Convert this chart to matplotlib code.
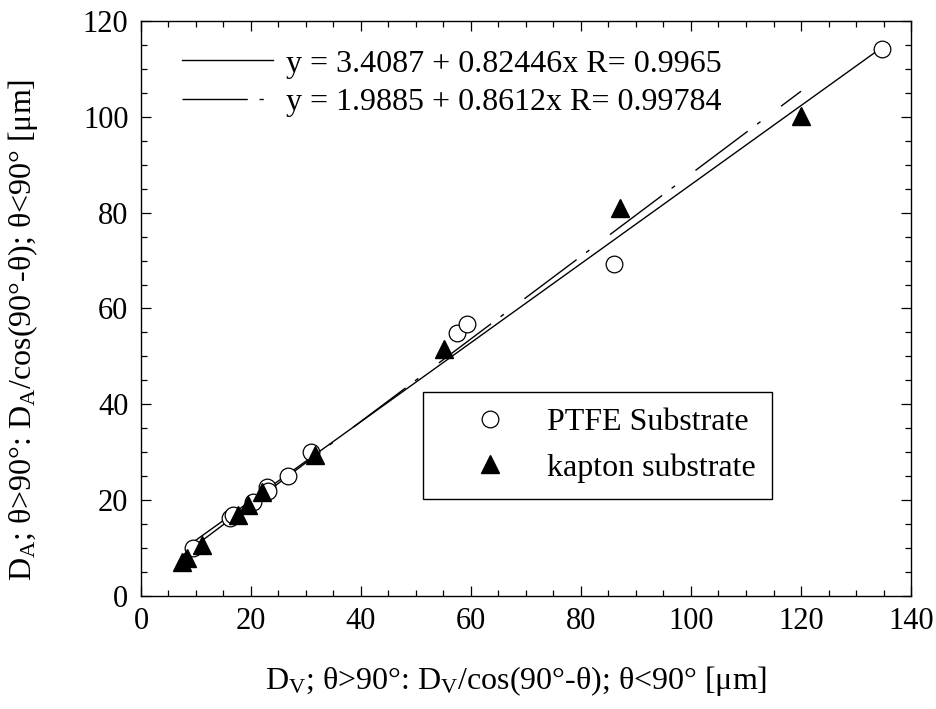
import matplotlib
matplotlib.use("Agg")
import matplotlib.pyplot as plt
from matplotlib.lines import Line2D
import numpy as np

plt.rcParams["font.family"] = ["Liberation Serif", "DejaVu Serif"]
plt.rcParams["mathtext.fontset"] = "custom"
plt.rcParams["mathtext.rm"] = "Liberation Serif"
plt.rcParams["mathtext.it"] = "Liberation Serif:italic"

# PTFE substrate (open circles)
ptfe_x = [134.7, 86.0, 57.5, 59.3, 31.0, 26.7, 22.9, 23.1, 20.4, 16.2, 16.8, 9.5]
ptfe_y = [114.2, 69.3, 54.9, 56.8, 30.0, 25.1, 22.8, 21.9, 19.6, 16.3, 17.0, 10.0]

# kapton substrate (filled triangles)
kapton_x = [120.0, 87.1, 55.1, 31.6, 22.0, 19.5, 17.6, 11.1, 7.5, 8.4]
kapton_y = [100.2, 81.0, 51.6, 29.4, 21.7, 19.0, 16.9, 10.6, 7.1, 7.9]

# linear fits given in the legend: intercept, slope, R
fit_ptfe = (3.4087, 0.82446, 0.9965)
fit_kapton = (1.9885, 0.8612, 0.99784)

x_ticks = [0, 20, 40, 60, 80, 100, 120, 140]
y_ticks = [0, 20, 40, 60, 80, 100, 120]

fig = plt.figure(figsize=(9.36, 7.09), dpi=100)
ax = fig.add_axes([0.1506, 0.1594, 0.8227, 0.811])

dash_pat = (47, 8.5, 3, 18.5)

xp = np.array([min(ptfe_x), max(ptfe_x)])
ax.plot(xp, fit_ptfe[0] + fit_ptfe[1] * xp, color="k", lw=1.0)
xk = np.array([min(kapton_x), max(kapton_x)])
ax.plot(xk, fit_kapton[0] + fit_kapton[1] * xk, color="k", lw=1.0,
        dashes=dash_pat)

pts_ptfe, = ax.plot(ptfe_x, ptfe_y, "o", ms=12, mfc="white", mec="k", mew=0.9,
                    label="PTFE Substrate")
pts_kapton, = ax.plot(kapton_x, kapton_y, "^", ms=12.5, mfc="k", mec="k",
                      label="kapton substrate")

ax.set_xlim(0, 140)
ax.set_ylim(0, 120)
ax.set_xticks(x_ticks)
ax.set_yticks(y_ticks)
ax.set_xticks(np.arange(0, 141, 5), minor=True)
ax.set_yticks(np.arange(0, 121, 5), minor=True)
ax.tick_params(which="both", direction="in", top=True, right=True,
               labelsize=22, width=0.9)
ax.tick_params(which="major", length=7.5)
ax.tick_params(which="minor", length=4.5)
ax.tick_params(axis="x", pad=8)
ax.tick_params(axis="y", pad=9)
for sp in ax.spines.values():
    sp.set_linewidth(1.0)

ax.set_xlabel(r"D$_\mathrm{V}$; θ>90°: D$_\mathrm{V}$/cos(90°-θ); θ<90° [μm]",
              fontsize=23)
ax.set_ylabel(r"D$_\mathrm{A}$; θ>90°: D$_\mathrm{A}$/cos(90°-θ); θ<90° [μm]",
              fontsize=23)
ax.xaxis.set_label_coords(0.487, -0.118)
ax.yaxis.set_label_coords(-0.131, 0.462)

# fit legend (top left, no frame)
fit_handles = [
    Line2D([], [], color="k", lw=1.0),
    Line2D([], [], color="k", lw=1.0, dashes=dash_pat),
]
fit_labels = [
    "y = %.4f + %.5fx R= %.4f" % fit_ptfe,
    "y = %.4f + %.4fx R= %.5f" % fit_kapton,
]
leg1 = ax.legend(fit_handles, fit_labels, loc="upper left",
                 bbox_to_anchor=(0.053, 0.951), frameon=False, fontsize=23,
                 handlelength=2.85, handletextpad=0.4, labelspacing=0.3,
                 borderpad=0, borderaxespad=0)
ax.add_artist(leg1)

leg2 = ax.legend([pts_ptfe, pts_kapton], ["PTFE Substrate", "kapton substrate"],
                 loc="upper left", bbox_to_anchor=(0.366, 0.355), fontsize=23,
                 fancybox=False, edgecolor="k", framealpha=1, handlelength=3.2,
                 handletextpad=0.2, borderpad=0.5, labelspacing=0.5,
                 borderaxespad=0, markerscale=1.0)
leg2.get_frame().set_linewidth(1.0)

fig.savefig("out.png", dpi=100)
